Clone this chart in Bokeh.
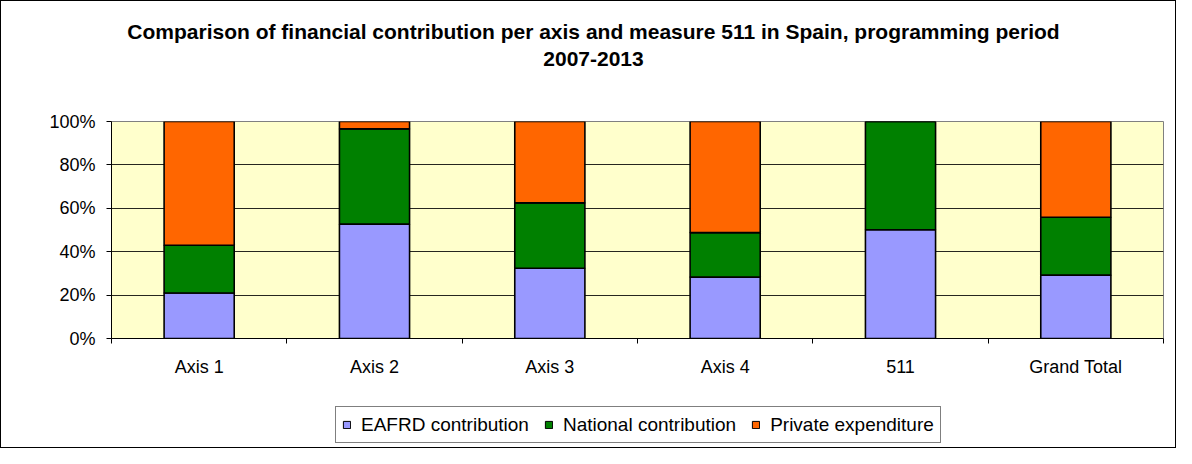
from bokeh.plotting import figure
from bokeh.layouts import column
from bokeh.models import (Range1d, FixedTicker, PrintfTickFormatter, Legend,
                          LegendItem, Label, ColumnDataSource)
from bokeh.embed import file_html
from bokeh.resources import INLINE

categories = ["Axis 1", "Axis 2", "Axis 3", "Axis 4", "511", "Grand Total"]
eafrd = [21.0, 52.7, 32.4, 28.3, 50.1, 29.2]
national = [22.0, 43.9, 30.1, 20.5, 49.9, 26.7]
private = [57.0, 3.4, 37.5, 51.2, 0.0, 44.1]
series_names = ["EAFRD contribution", "National contribution", "Private expenditure"]
colors = ["#9999FF", "#008000", "#FF6600"]
y_ticks = [0, 20, 40, 60, 80, 100]
title_lines = ["Comparison of financial contribution per axis and measure 511 in Spain, programming period",
               "2007-2013"]

FONT = "Liberation Sans"
W = 1174
H_TITLE, H_MAIN, H_LEG = 110, 277, 59
LEFT, RIGHT = 110, 12

xs = [i + 0.5 for i in range(len(categories))]
src = ColumnDataSource(dict(x=xs, eafrd=eafrd, national=national, private=private))

# ---------- title strip (frame is aligned with the main chart's frame) ----------
pt = figure(width=W, height=H_TITLE, output_backend="svg", toolbar_location=None,
            x_range=Range1d(LEFT, W - RIGHT), y_range=Range1d(0, H_TITLE),
            x_axis_location=None, y_axis_location=None, min_border=0)
pt.grid.visible = False
pt.outline_line_color = None
pt.background_fill_color = "white"
pt.border_fill_color = "white"
for txt, yy in zip(title_lines, [H_TITLE - 30, H_TITLE - 57]):
    pt.add_layout(Label(x=592, y=yy, text=txt, text_align="center", text_baseline="middle",
                        text_font=FONT, text_font_size="21px", text_font_style="bold",
                        text_color="black"))

# ---------- main chart ----------
p = figure(width=W, height=H_MAIN, output_backend="svg", toolbar_location=None,
           x_range=Range1d(0, len(categories)), y_range=Range1d(0, 100),
           min_border_left=LEFT, min_border_right=RIGHT, min_border_top=10,
           min_border_bottom=50)
p.background_fill_color = "#FFFFCC"
p.border_fill_color = "white"
p.outline_line_color = "#808080"
p.outline_line_width = 1

p.vbar_stack(["eafrd", "national", "private"], x="x", width=0.4,
             source=src, color=colors, line_color="black", line_width=1.6)

p.xaxis.ticker = FixedTicker(ticks=xs, minor_ticks=list(range(len(categories) + 1)))
p.xaxis.major_label_overrides = {x: c for x, c in zip(xs, categories)}
p.xaxis.major_tick_line_color = None
p.xaxis.minor_tick_line_color = "black"
p.xaxis.minor_tick_out = 5
p.xaxis.minor_tick_in = 0
p.xaxis.axis_line_color = "black"
p.xaxis.major_label_standoff = 12
p.xaxis.major_label_text_font = FONT
p.xaxis.major_label_text_font_size = "18px"
p.xaxis.major_label_text_color = "black"

p.yaxis.ticker = FixedTicker(ticks=y_ticks)
p.yaxis.formatter = PrintfTickFormatter(format="%d%%")
p.yaxis.major_tick_out = 5
p.yaxis.major_tick_in = 0
p.yaxis.minor_tick_line_color = None
p.yaxis.axis_line_color = "black"
p.yaxis.major_tick_line_color = "black"
p.yaxis.major_label_standoff = 11
p.yaxis.major_label_text_font = FONT
p.yaxis.major_label_text_font_size = "18px"
p.yaxis.major_label_text_color = "black"

p.xgrid.grid_line_color = None
p.ygrid.grid_line_color = "black"
p.ygrid.grid_line_width = 1
p.ygrid.grid_line_alpha = 0.85

# ---------- legend strip ----------
pl = figure(width=W, height=H_LEG, output_backend="svg", toolbar_location=None,
            x_range=Range1d(0, len(categories)), y_range=Range1d(1000, 1001),
            x_axis_location=None, y_axis_location=None, min_border=0)
pl.grid.visible = False
pl.outline_line_color = None
pl.background_fill_color = "white"
pl.border_fill_color = "white"
leg_renderers = pl.vbar_stack(["eafrd", "national", "private"], x="x", width=0.4,
                              source=src, color=colors, line_color="black", line_width=1)
legend = Legend(items=[LegendItem(label=n, renderers=[r]) for n, r in zip(series_names, leg_renderers)],
                orientation="horizontal", location=(224, 4),
                label_text_font=FONT, label_text_font_size="19px", label_text_color="black",
                glyph_width=9, glyph_height=9, label_standoff=10, spacing=15,
                padding=6, margin=0, label_height=23,
                border_line_color="black", border_line_width=1,
                background_fill_color="white", background_fill_alpha=1)
pl.add_layout(legend, "center")

layout = column(pt, p, pl, spacing=0)
layout.styles = {"border": "1px solid black"}

open("out.html", "w").write(file_html(layout, INLINE))
